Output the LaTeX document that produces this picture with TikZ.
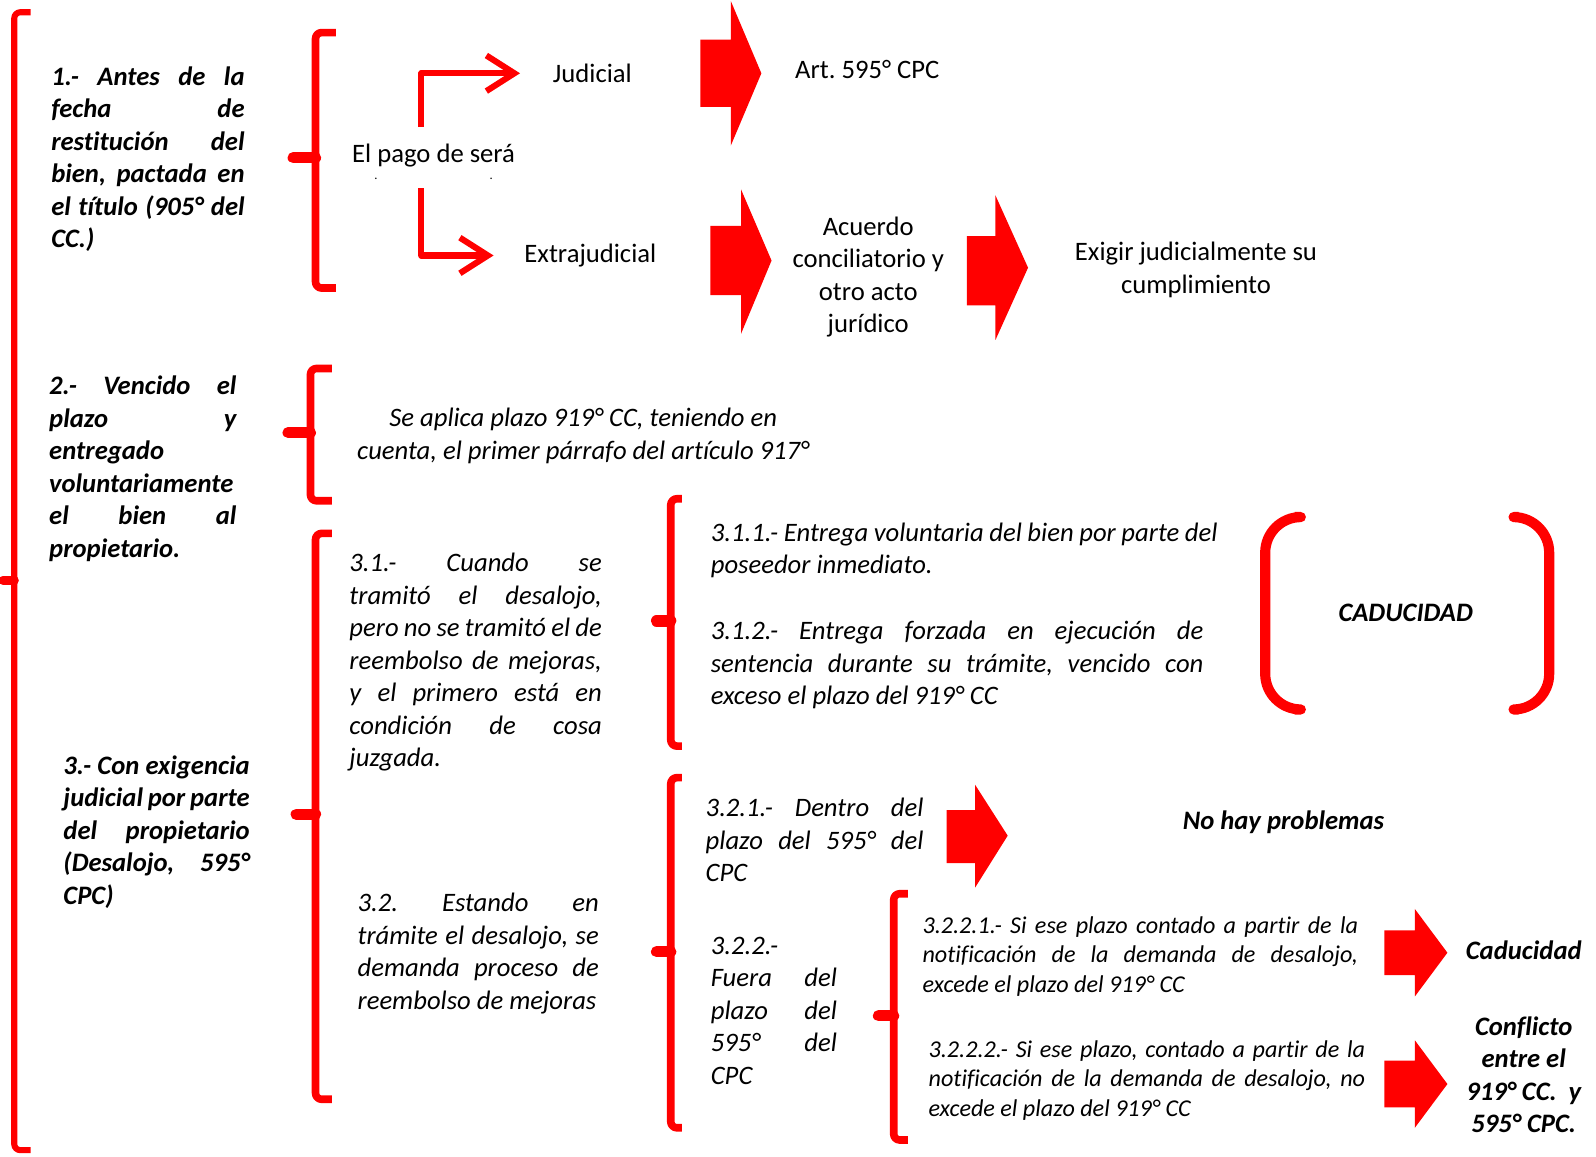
\documentclass[tikz,border=0pt]{standalone}
\usepackage{fontspec}
\setmainfont{Carlito}[Ligatures=NoCommon]
\usetikzlibrary{arrows.meta}
\hyphenpenalty=10000
\exhyphenpenalty=10000
\frenchspacing
\tikzset{
  llave/.style={red, line width=0.15cm, rounded corners=0.12cm},
  nudo/.style={red, line width=0.22cm, line cap=round},
  parentesis/.style={red, line width=0.2cm, rounded corners=0.7cm},
  flecha/.style={fill=red},
  conector/.style={red, line width=0.12cm, ->},
  normal/.style={inner sep=0pt, font=\fontsize{14.9}{18.2}\selectfont},
  cursiva/.style={inner sep=0pt, font=\fontsize{14.9}{18.2}\selectfont\itshape},
  negrita/.style={inner sep=0pt, font=\fontsize{14.9}{18.2}\selectfont\bfseries\itshape},
  chica/.style={inner sep=0pt, font=\fontsize{13.5}{16.5}\selectfont\itshape},
  parrafo/.style={anchor=north west, align=justify},
}
\begin{document}
\begin{tikzpicture}[x=0.02cm, y=-0.02cm, line join=round, >={Straight Barb[length=0.55cm, width=0.7cm]}]
\useasboundingbox (0,0) rectangle (1568,1136);
% llaves
\draw[llave, line width=0.12cm] (30,12) -- (14,12) -- (14,1130) -- (30,1130);
\draw[nudo, line width=0.18cm] (14,570) -- (3,570);
\draw[llave] (330,32) -- (310,32) -- (310,283) -- (330,283); \draw[nudo] (310,155) -- (288,155);
\draw[llave] (326,362) -- (305,362) -- (305,492) -- (326,492); \draw[nudo] (305,425) -- (283,425);
\draw[llave] (326,524) -- (310,524) -- (310,1080) -- (326,1080); \draw[nudo] (310,800) -- (291,800);
\draw[llave] (670,490) -- (659,490) -- (659,733) -- (670,733); \draw[nudo] (659,610) -- (645,610);
\draw[llave] (670,764) -- (659,764) -- (659,1108) -- (670,1108); \draw[nudo] (659,935) -- (645,935);
\draw[llave] (892,878) -- (878,878) -- (878,1120) -- (892,1120); \draw[nudo] (878,998) -- (863,998);
\draw[parentesis] (1272,508) -- (1243,508) -- (1243,697) -- (1272,697);
\draw[parentesis] (1492,508) -- (1522,508) -- (1522,697) -- (1492,697);
% flechas
\fill[flecha] (688,39) -- (718,39) -- (718,1) -- (748,72) -- (718,143) -- (718,105) -- (688,105) -- cycle;
\fill[flecha] (698,222) -- (728,222) -- (728,186) -- (758,256) -- (728,328) -- (728,290) -- (698,290) -- cycle;
\fill[flecha] (950,232) -- (978,232) -- (978,192) -- (1010,263) -- (978,334) -- (978,300) -- (950,300) -- cycle;
\fill[flecha] (930,796) -- (958,796) -- (958,771) -- (990,821) -- (958,872) -- (958,848) -- (930,848) -- cycle;
\fill[flecha] (1360,914) -- (1390,914) -- (1390,893) -- (1422,936) -- (1390,979) -- (1390,958) -- (1360,958) -- cycle;
\fill[flecha] (1360,1042) -- (1390,1042) -- (1390,1022) -- (1422,1065) -- (1390,1108) -- (1390,1088) -- (1360,1088) -- cycle;
% textos
\node[negrita, parrafo, text width=3.8cm] (antes) at (50,65)
  {1.- Antes de la\linebreak fecha de\linebreak restitución del\linebreak bien, pactada en\linebreak el título (905° del\linebreak CC.)};
\node[negrita, parrafo, text width=3.68cm] (vencido) at (48,369)
  {2.- Vencido el\linebreak plazo y\linebreak entregado\linebreak voluntariamente\linebreak el bien al\linebreak propietario.};
\node[negrita, parrafo, text width=3.66cm] (exigencia) at (62,742)
  {3.- Con exigencia\linebreak judicial por parte\linebreak del propietario\linebreak (Desalojo, 595°\linebreak CPC)};
\node[normal, align=center, anchor=north] (pago) at (426,141)
  {El pago de será\\[-0.3cm]{\scriptsize .\hspace{2.2cm}.}};
\node[normal] (jud) at (582,72) {Judicial};
\node[normal] (extra) at (580,251) {Extrajudicial};
\node[normal] (art) at (852,68) {Art. 595° CPC};
\node[normal, align=center] (acuerdo) at (853,272) {Acuerdo\\ conciliatorio y\\ otro acto\\ jurídico};
\node[normal, align=center] (exigir) at (1175,265) {Exigir judicialmente su\\ cumplimiento};
\node[cursiva, align=center] (aplica) at (573,428)
  {Se aplica plazo 919° CC, teniendo en\\ cuenta, el primer párrafo del artículo 917°};
\node[cursiva, parrafo, text width=4.96cm] (cuando) at (343,543)
  {3.1.- Cuando se\linebreak tramitó el desalojo,\linebreak pero no se tramitó el de\linebreak reembolso de mejoras,\linebreak y el primero está en\linebreak condición de cosa\linebreak juzgada.};
\node[cursiva, parrafo, text width=4.74cm] (estando) at (351,877)
  {3.2. Estando en\linebreak trámite el desalojo, se\linebreak demanda proceso de\linebreak reembolso de mejoras};
\node[cursiva, parrafo, text width=9.96cm] (voluntaria) at (698,513)
  {3.1.1.- Entrega voluntaria del bien por parte del\linebreak poseedor inmediato.};
\node[cursiva, parrafo, text width=9.68cm] (forzada) at (698,610)
  {3.1.2.- Entrega forzada en ejecución de\linebreak sentencia durante su trámite, vencido con\linebreak exceso el plazo del 919° CC};
\node[negrita] (caduc) at (1381,602) {CADUCIDAD};
\node[cursiva, parrafo, text width=4.28cm] (dentro) at (693,784)
  {3.2.1.- Dentro del\linebreak plazo del 595° del\linebreak CPC};
\node[cursiva, parrafo, text width=2.48cm] (fuera) at (698,920)
  {3.2.2.-\linebreak Fuera del\linebreak plazo del\linebreak 595° del\linebreak CPC};
\node[negrita] (nohay) at (1261,808) {No hay problemas};
\node[chica, parrafo, text width=8.56cm] (excede) at (906,900)
  {3.2.2.1.- Si ese plazo contado a partir de la\linebreak notificación de la demanda de desalojo,\linebreak excede el plazo del 919° CC};
\node[chica, parrafo, text width=8.58cm] (noexcede) at (912,1022)
  {3.2.2.2.- Si ese plazo, contado a partir de la\linebreak notificación de la demanda de desalojo, no\linebreak excede el plazo del 919° CC};
\node[negrita] (caducidad) at (1497,934) {Caducidad};
\node[negrita, align=center] (conflicto) at (1497,1056) {Conflicto\\ entre el\\ 919° CC.~ y\\ 595° CPC.};
% conectores
\coordinate (pj) at (414,125);
\coordinate (pe) at (414,185);
\draw[conector, shorten >=0.64cm] (pj) |- (jud.west);
\draw[conector, shorten >=0.6cm] (pe) |- (extra.west);
\end{tikzpicture}
\end{document}
